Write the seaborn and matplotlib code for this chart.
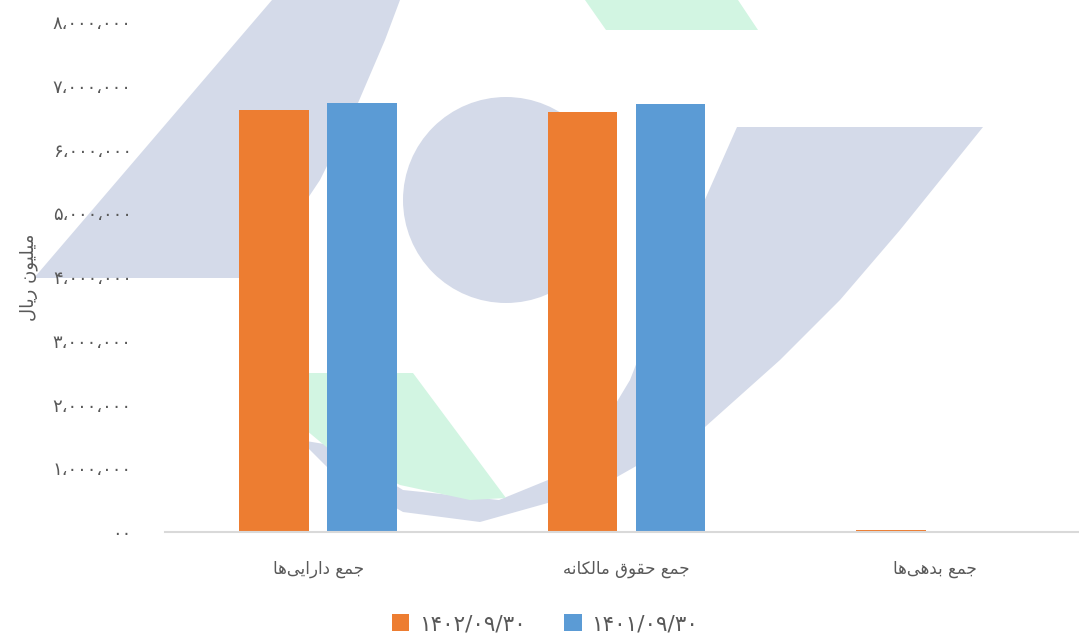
import matplotlib
matplotlib.use("Agg")
import matplotlib.pyplot as plt
from matplotlib.patches import Polygon, Ellipse
from matplotlib.ticker import FuncFormatter, MultipleLocator
import seaborn as sns
import pandas as pd

# ---------------- data ----------------
categories = ["جمع دارایی‌ها", "جمع حقوق مالکانه", "جمع بدهی‌ها"]
series_names = ["۱۴۰۲/۰۹/۳۰", "۱۴۰۱/۰۹/۳۰"]
values_1402 = [6620000, 6595000, 25000]
values_1401 = [6725000, 6710000, 15000]
y_label = "میلیون ریال"
colors = ["#ED7D31", "#5B9BD5"]

# ---------------- minimal Arabic/Persian shaping ----------------
FORMS = {
    'ا': ('\uFE8D', '\uFE8E', None, None),
    'ب': ('\uFE8F', '\uFE90', '\uFE91', '\uFE92'),
    'ج': ('\uFE9D', '\uFE9E', '\uFE9F', '\uFEA0'),
    'ح': ('\uFEA1', '\uFEA2', '\uFEA3', '\uFEA4'),
    'د': ('\uFEA9', '\uFEAA', None, None),
    'ر': ('\uFEAD', '\uFEAE', None, None),
    'ع': ('\uFEC9', '\uFECA', '\uFECB', '\uFECC'),
    'ق': ('\uFED5', '\uFED6', '\uFED7', '\uFED8'),
    'ک': ('\uFB8E', '\uFB8F', '\uFB90', '\uFB91'),
    'ل': ('\uFEDD', '\uFEDE', '\uFEDF', '\uFEE0'),
    'م': ('\uFEE1', '\uFEE2', '\uFEE3', '\uFEE4'),
    'ن': ('\uFEE5', '\uFEE6', '\uFEE7', '\uFEE8'),
    'ه': ('\uFEE9', '\uFEEA', '\uFEEB', '\uFEEC'),
    'و': ('\uFEED', '\uFEEE', None, None),
    'ی': ('\uFBFC', '\uFBFD', '\uFBFE', '\uFBFF'),
}


def shape(text):
    out = []
    n = len(text)
    for i, ch in enumerate(text):
        if ch == '\u200c':
            continue
        if ch not in FORMS:
            out.append(ch)
            continue
        f = FORMS[ch]
        prev_joins = i > 0 and text[i - 1] in FORMS and FORMS[text[i - 1]][2] is not None
        next_joins = i < n - 1 and text[i + 1] in FORMS and f[2] is not None
        if prev_joins and next_joins:
            g = f[3]
        elif prev_joins:
            g = f[1]
        elif next_joins:
            g = f[2]
        else:
            g = f[0]
        out.append(g)
    return "".join(reversed(out))


PERSIAN_DIGITS = str.maketrans("0123456789,", "۰۱۲۳۴۵۶۷۸۹،")


def fmt(v, pos):
    v = int(round(v))
    if v == 0:
        return "۰۰"
    return f"{v:,}".translate(PERSIAN_DIGITS)


df = pd.DataFrame({
    "category": categories * 2,
    "series": [series_names[0]] * 3 + [series_names[1]] * 3,
    "value": values_1402 + values_1401,
})

# ---------------- figure ----------------
sns.set_theme(style="white")
plt.rcParams['font.family'] = ['DejaVu Sans']
W, H = 1079, 635
fig = plt.figure(figsize=(W / 100, H / 100), dpi=100)
fig.patch.set_facecolor("white")

# background watermark (decorative), drawn in a full-figure axes behind the chart
bg = fig.add_axes([0, 0, 1, 1], zorder=-5)
bg.set_xlim(0, W)
bg.set_ylim(H, 0)
bg.axis("off")
slate = "#D4DAE9"
green = "#D2F5E2"
wm = [
    ([(34, 278), (272, 0), (400, 0), (385, 40), (355, 110), (320, 180), (280, 240), (250, 278)], slate),
    ([(737, 127), (983, 127), (900, 230), (840, 300), (780, 360), (705, 427), (594, 490),
      (480, 522), (403, 512), (330, 470), (300, 440), (330, 445), (403, 490),
      (499, 500), (548, 480), (600, 430), (630, 380), (665, 290)], slate),
    ([(306, 373), (413, 373), (506, 498), (470, 500), (400, 485), (330, 450),
      (306, 430)], green),
    ([(585, 0), (738, 0), (758, 30), (606, 30)], green),
]
for pts, c in wm:
    bg.add_patch(Polygon(pts, closed=True, facecolor=c, edgecolor="none"))
bg.add_patch(Ellipse((506, 200), 206, 206, facecolor=slate, edgecolor="none"))

left, right, top, bottom = 165, 1079, 22, 532
ax = fig.add_axes([left / W, 1 - bottom / H, (right - left) / W, (bottom - top) / H])
ax.patch.set_alpha(0)

sns.barplot(data=df, x="category", y="value", hue="series",
            palette=colors, width=0.57, gap=0.21, ax=ax,
            saturation=1, errorbar=None, linewidth=0)

ax.set_xlim(-0.496, 2.467)
ax.set_ylim(0, 8000000)
ax.yaxis.set_major_locator(MultipleLocator(1000000))
ax.yaxis.set_major_formatter(FuncFormatter(fmt))
ax.set_xticks(range(len(categories)))
ax.set_xticklabels([shape(c) for c in categories])
ax.tick_params(axis="y", length=0, pad=24, labelsize=13, labelcolor="#595959")
ax.tick_params(axis="x", length=0, pad=20, labelsize=12, labelcolor="#595959")
ax.set_xlabel("")
ax.set_ylabel(shape(y_label), fontsize=13, color="#595959")
ax.yaxis.set_label_coords((38 - left) / (right - left), 0.5)
for s in ["top", "right", "left"]:
    ax.spines[s].set_visible(False)
ax.spines["bottom"].set_color("#D9D9D9")
ax.spines["bottom"].set_linewidth(1.5)
ax.grid(False)

handles, labels = ax.get_legend_handles_labels()
ax.get_legend().remove()
leg = fig.legend(handles, labels, loc="center", bbox_to_anchor=(545 / W, 1 - 624 / H),
                 ncol=2, frameon=False, fontsize=15.5, handlelength=0.8,
                 handleheight=0.8, handletextpad=0.45, columnspacing=1.8)
for t in leg.get_texts():
    t.set_color("#595959")

fig.savefig("out.png", dpi=100, facecolor="white")
